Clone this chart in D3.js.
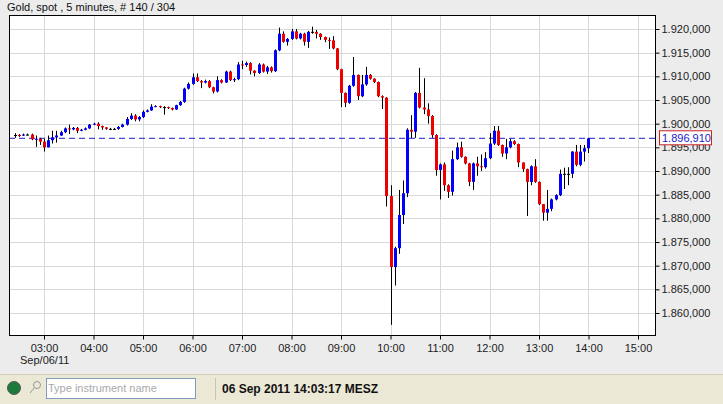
<!DOCTYPE html>
<html><head><meta charset="utf-8">
<script src="https://cdn.jsdelivr.net/npm/d3@7"></script>
<style>body{margin:0;background:#ececec;font-family:"Liberation Sans",Arial,sans-serif}</style>
</head><body><svg id="c" width="723" height="404"></svg>
<script>
const startTime = "02:25";
const closes = [1.8976,1.8975,1.8977,1.8977,1.8967,1.8968,1.8962,1.8950,1.8965,1.8971,1.8975,1.8982,1.8990,1.8988,1.8991,1.8985,1.8987,1.8990,1.8998,1.9000,1.8995,1.8992,1.8989,1.8989,1.8989,1.8993,
1.8998,1.9010,1.9017,1.9009,1.9014,1.9025,1.9028,1.9036,1.9037,1.9035,1.9035,1.9033,1.9030,1.9039,1.9046,1.9074,1.9084,1.9098,1.9090,1.9087,1.9090,1.9077,1.9068,1.9092,1.9087,1.9110,
1.9092,1.9094,1.9125,1.9124,1.9128,1.9112,1.9107,1.9125,1.9110,1.9119,1.9111,1.9155,1.9190,1.9173,1.9179,1.9195,1.9180,1.9190,1.9173,1.9194,1.9194,1.9190,1.9183,1.9177,1.9176,
1.9159,1.9115,1.9065,1.9044,1.9080,1.9103,1.9058,1.9083,1.9103,1.9095,1.9088,1.9058,1.9055,1.8847,1.8697,1.8737,1.8807,1.8853,1.8987,1.8983,1.9065,
1.9034,1.9030,1.9016,1.8976,1.8902,1.8914,1.8870,1.8856,1.8925,1.8950,1.8930,1.8916,1.8877,1.8916,1.8910,1.8908,1.8927,1.8958,1.8985,1.8955,1.8937,1.8950,1.8963,
1.8957,1.8918,1.8904,1.8877,1.8910,1.8877,1.8830,1.8812,1.8820,1.8840,1.8849,1.8894,1.8894,1.8894,1.8941,1.8913,1.8941,1.8948,1.8969];
const highs = [1.8980,1.8978,1.8979,1.8979,1.8979,1.8975,1.8970,1.8968,1.8975,1.8985,1.8985,1.8985,1.8992,1.8998,1.8993,1.8993,1.8989,1.8992,1.8999,1.9002,1.9003,1.8996,1.8993,1.8991,1.8991,1.8995,
1.9000,1.9014,1.9022,1.9020,1.9016,1.9028,1.9030,1.9041,1.9039,1.9038,1.9037,1.9036,1.9034,1.9040,1.9048,1.9076,1.9087,1.9106,1.9106,1.9092,1.9093,1.9092,1.9078,1.9100,1.9094,1.9112,
1.9112,1.9097,1.9130,1.9133,1.9131,1.9130,1.9113,1.9128,1.9127,1.9122,1.9121,1.9157,1.9203,1.9195,1.9181,1.9200,1.9200,1.9192,1.9192,1.9196,1.9205,1.9198,1.9191,1.9184,1.9182,
1.9185,1.9160,1.9116,1.9066,1.9082,1.9141,1.9104,1.9103,1.9120,1.9105,1.9096,1.9089,1.9060,1.9056,1.8870,1.8740,1.8860,1.8880,1.8990,1.9018,1.9067,
1.9118,1.9096,1.9043,1.9018,1.8978,1.8916,1.8918,1.8872,1.8943,1.8960,1.8962,1.8931,1.8917,1.8918,1.8930,1.8935,1.8940,1.8980,1.8995,1.8995,1.8956,1.8968,1.8968,
1.8965,1.8958,1.8918,1.8905,1.8912,1.8925,1.8878,1.8829,1.8860,1.8842,1.8851,1.8903,1.8907,1.8908,1.8942,1.8955,1.8955,1.8955,1.8970];
const lows = [1.8970,1.8972,1.8974,1.8975,1.8965,1.8951,1.8955,1.8941,1.8950,1.8958,1.8960,1.8974,1.8980,1.8978,1.8986,1.8980,1.8984,1.8986,1.8989,1.8997,1.8988,1.8987,1.8987,1.8987,1.8987,1.8987,
1.8992,1.8996,1.9008,1.9005,1.9005,1.9012,1.9024,1.9027,1.9035,1.9033,1.9019,1.9031,1.9028,1.9029,1.9038,1.9044,1.9072,1.9082,1.9088,1.9075,1.9085,1.9075,1.9064,1.9066,1.9085,1.9086,
1.9090,1.9088,1.9092,1.9115,1.9120,1.9104,1.9100,1.9105,1.9108,1.9105,1.9108,1.9109,1.9153,1.9171,1.9165,1.9177,1.9178,1.9178,1.9165,1.9160,1.9190,1.9180,1.9177,1.9172,1.9158,
1.9157,1.9113,1.9035,1.9035,1.9042,1.9078,1.9050,1.9056,1.9080,1.9093,1.9086,1.9056,1.9031,1.8825,1.8575,1.8658,1.8725,1.8788,1.8845,1.8970,1.8970,
1.9032,1.9020,1.9000,1.8970,1.8890,1.8840,1.8858,1.8843,1.8848,1.8923,1.8928,1.8914,1.8868,1.8860,1.8890,1.8900,1.8905,1.8925,1.8955,1.8953,1.8930,1.8925,1.8948,
1.8955,1.8908,1.8898,1.8805,1.8870,1.8875,1.8828,1.8795,1.8795,1.8815,1.8838,1.8847,1.8862,1.8870,1.8885,1.8910,1.8910,1.8920,1.8938];
const priceTicks = [1.860,1.865,1.870,1.875,1.880,1.885,1.890,1.895,1.900,1.905,1.910,1.915,1.920];
const hourTicks = ["03:00","04:00","05:00","06:00","07:00","08:00","09:00","10:00","11:00","12:00","13:00","14:00","15:00"];
const lastPrice = 1.89691;
const title = "Gold, spot , 5 minutes, # 140 / 304";
const dateLabel = "Sep/06/11";
const status = "06 Sep 2011 14:03:17 MESZ";

const pt = d3.timeParse("%H:%M");
const t0 = pt(startTime);
const candles = closes.map((c,i)=>({t:new Date(+t0+i*300000), o: i? closes[i-1]:closes[0], c, h:highs[i], l:lows[i]}));
candles.forEach(d=>{d.h=Math.max(d.h,d.o,d.c); d.l=Math.min(d.l,d.o,d.c);});

const svg = d3.select("#c");
const L=9,R=655,T=15,B=335;
const x = d3.scaleTime().domain([pt("03:00"),pt("15:00")]).range([44,638]);
const y = d3.scaleLinear().domain([1.860,1.920]).range([313,29]);
const fmt = v => d3.format(".6f")(v).replace(/(\d)\.(\d{3})(\d{3})/,"$1.$2,$3");

svg.append("rect").attr("x",L).attr("y",T).attr("width",R-L).attr("height",B-T).attr("fill","#fff");
const g = svg.append("g");
g.selectAll(".hg").data(priceTicks).join("line").attr("x1",L).attr("x2",R).attr("y1",d=>Math.round(y(d))+.5).attr("y2",d=>Math.round(y(d))+.5).attr("stroke","#d8d8d8");
g.selectAll(".vg").data(hourTicks).join("line").attr("y1",T).attr("y2",B).attr("x1",d=>Math.round(x(pt(d)))+.5).attr("x2",d=>Math.round(x(pt(d)))+.5).attr("stroke","#d8d8d8");

svg.append("line").attr("x1",L).attr("x2",R).attr("y1",y(lastPrice)).attr("y2",y(lastPrice)).attr("stroke","#1a1acc").attr("stroke-dasharray","6,4");

const cg = svg.append("g");
cg.selectAll("line").data(candles).join("line").attr("x1",d=>Math.round(x(d.t))+.5).attr("x2",d=>Math.round(x(d.t))+.5).attr("y1",d=>y(d.h)).attr("y2",d=>y(d.l)).attr("stroke","#000");
cg.selectAll("rect").data(candles).join("rect").attr("x",d=>Math.round(x(d.t))-1).attr("width",3)
  .attr("y",d=>y(Math.max(d.o,d.c))).attr("height",d=>Math.max(1,Math.abs(y(d.o)-y(d.c))))
  .attr("fill",d=>Math.abs(d.o-d.c)<0.00005?"#000":(d.c>d.o?"#0000ff":"#ee0000"));

svg.append("rect").attr("x",L+.5).attr("y",T+.5).attr("width",R-L).attr("height",B-T).attr("fill","none").attr("stroke","#000");

const ya = svg.append("g").attr("transform",`translate(${R+.5},0)`).call(d3.axisRight(y).tickValues(priceTicks).tickSize(4).tickFormat(fmt));
ya.select(".domain").remove();
ya.selectAll("text").attr("font-size",11).attr("font-family","Liberation Sans, Arial").attr("fill","#222").attr("x",6);
const xa = svg.append("g").attr("transform",`translate(0,${B+.5})`).call(d3.axisBottom(x).tickValues(hourTicks.map(pt)).tickSize(4).tickFormat(d3.timeFormat("%H:%M")));
xa.select(".domain").remove();
xa.selectAll("text").attr("font-size",11).attr("font-family","Liberation Sans, Arial").attr("fill","#222").attr("dy","0.9em");

const ly = y(lastPrice);
svg.append("rect").attr("x",659.5).attr("y",ly-7.5).attr("width",52).attr("height",14).attr("fill","#fff").attr("stroke","#cc2222");
svg.append("text").attr("x",662).attr("y",ly+4).attr("font-size",11).attr("fill","#1a1acc").text(fmt(lastPrice));

svg.append("text").attr("x",7).attr("y",11).attr("font-size",11).attr("fill","#111").text(title);
svg.append("text").attr("x",20).attr("y",364).attr("font-size",11).attr("fill","#222").text(dateLabel);

svg.append("rect").attr("x",0).attr("y",374).attr("width",723).attr("height",30).attr("fill","#ebe8d6");
svg.append("line").attr("x1",0).attr("x2",723).attr("y1",374.5).attr("y2",374.5).attr("stroke","#d0cdb8");
svg.append("circle").attr("cx",14).attr("cy",388).attr("r",6.5).attr("fill","#1c7a3a").attr("stroke","#555");
svg.append("circle").attr("cx",37).attr("cy",385).attr("r",3.5).attr("fill","none").attr("stroke","#999");
svg.append("line").attr("x1",34).attr("y1",388).attr("x2",30).attr("y2",393).attr("stroke","#999");
svg.append("rect").attr("x",46.5).attr("y",378.5).attr("width",149).attr("height",20).attr("fill","#fff").attr("stroke","#7f9db9");
svg.append("text").attr("x",48).attr("y",392).attr("font-size",11).attr("fill","#aaa").text("Type instrument name");
svg.append("line").attr("x1",215.5).attr("x2",215.5).attr("y1",378).attr("y2",400).attr("stroke","#c8c4ae");
svg.append("text").attr("x",222).attr("y",393).attr("font-size",12).attr("font-weight","bold").attr("fill","#111").text(status);
</script></body></html>
